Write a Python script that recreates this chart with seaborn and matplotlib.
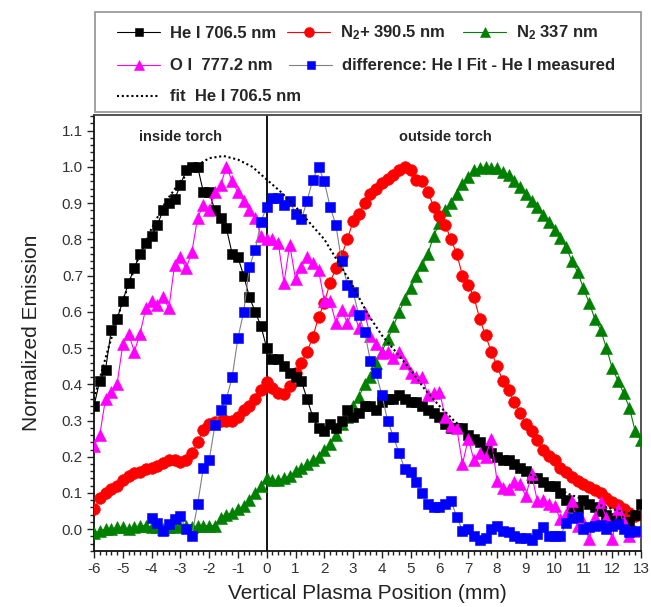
import matplotlib
matplotlib.use("Agg")
import matplotlib.pyplot as plt
import seaborn as sns
from matplotlib.patches import Rectangle
from matplotlib.ticker import MultipleLocator, FormatStrFormatter

# ---------------- data ----------------
POS = [-6.0, -5.8, -5.6, -5.4, -5.2, -5.0, -4.8, -4.6, -4.4, -4.2,
       -4.0, -3.8, -3.6, -3.4, -3.2, -3.0, -2.8, -2.6, -2.4, -2.2,
       -2.0, -1.8, -1.6, -1.4, -1.2, -1.0, -0.8, -0.6, -0.4, -0.2,
       0.0, 0.2, 0.4, 0.6, 0.8, 1.0, 1.2, 1.4, 1.6, 1.8,
       2.0, 2.2, 2.4, 2.6, 2.8, 3.0, 3.2, 3.4, 3.6, 3.8,
       4.0, 4.2, 4.4, 4.6, 4.8, 5.0, 5.2, 5.4, 5.6, 5.8,
       6.0, 6.2, 6.4, 6.6, 6.8, 7.0, 7.2, 7.4, 7.6, 7.8,
       8.0, 8.2, 8.4, 8.6, 8.8, 9.0, 9.2, 9.4, 9.6, 9.8,
       10.0, 10.2, 10.4, 10.6, 10.8, 11.0, 11.2, 11.4, 11.6, 11.8,
       12.0, 12.2, 12.4, 12.6, 12.8, 13.0]

he_i_706 = [0.34, 0.41, 0.44, 0.55, 0.58, 0.63, 0.68, 0.72, 0.76, 0.79,
            0.81, 0.84, 0.88, 0.90, 0.91, 0.95, 0.99, 1.00, 1.00, 0.93,
            0.93, 0.88, 0.86, 0.83, 0.76, 0.75, 0.70, 0.64, 0.60, 0.56,
            0.50, 0.47, 0.47, 0.45, 0.43, 0.42, 0.41, 0.36, 0.31, 0.28,
            0.27, 0.29, 0.28, 0.30, 0.33, 0.31, 0.32, 0.34, 0.34, 0.33,
            0.35, 0.36, 0.36, 0.37, 0.36, 0.35, 0.35, 0.34, 0.33, 0.32,
            0.31, 0.29, 0.28, 0.28, 0.28, 0.26, 0.25, 0.24, 0.22, 0.21,
            0.20, 0.19, 0.19, 0.18, 0.17, 0.16, 0.14, 0.14, 0.13, 0.12,
            0.12, 0.10, 0.08, 0.06, 0.06, 0.08, 0.07, 0.06, 0.05, 0.04,
            0.03, 0.03, 0.02, 0.02, 0.04, 0.07]

n2p_390 = [0.055, 0.085, 0.10, 0.11, 0.12, 0.135, 0.147, 0.155, 0.157, 0.165,
           0.17, 0.175, 0.182, 0.19, 0.19, 0.185, 0.19, 0.21, 0.24, 0.275,
           0.29, 0.295, 0.298, 0.298, 0.30, 0.31, 0.33, 0.34, 0.36, 0.385,
           0.405, 0.39, 0.375, 0.372, 0.395, 0.43, 0.46, 0.49, 0.53, 0.585,
           0.625, 0.68, 0.72, 0.755, 0.80, 0.85, 0.87, 0.90, 0.925, 0.94,
           0.955, 0.967, 0.977, 0.99, 1.0, 0.99, 0.965, 0.96, 0.93, 0.89,
           0.865, 0.84, 0.80, 0.76, 0.70, 0.675, 0.64, 0.58, 0.535, 0.49,
           0.45, 0.41, 0.385, 0.35, 0.322, 0.29, 0.27, 0.245, 0.22, 0.203,
           0.19, 0.17, 0.157, 0.145, 0.133, 0.124, 0.116, 0.108, 0.10, 0.085,
           0.075, 0.066, 0.055, 0.046, 0.037]

n2_337 = [-0.01, -0.005, 0.0, 0.0, 0.005, 0.005, 0.0, 0.005, 0.01, 0.01,
          0.005, 0.005, 0.0, 0.005, 0.005, 0.01, 0.01, 0.005, 0.01, 0.01,
          0.01, 0.01, 0.03, 0.04, 0.045, 0.055, 0.065, 0.08, 0.10, 0.12,
          0.14, 0.135, 0.135, 0.14, 0.148, 0.16, 0.168, 0.18, 0.19, 0.20,
          0.22, 0.235, 0.26, 0.29, 0.31, 0.34, 0.365, 0.40, 0.42, 0.46,
          0.49, 0.525, 0.56, 0.60, 0.634, 0.665, 0.70, 0.728, 0.76, 0.81,
          0.845, 0.88, 0.90, 0.925, 0.953, 0.973, 0.99, 0.996, 1.0, 0.998,
          0.996, 0.985, 0.977, 0.962, 0.945, 0.925, 0.905, 0.888, 0.868, 0.847,
          0.826, 0.805, 0.778, 0.74, 0.71, 0.665, 0.625, 0.58, 0.55, 0.50,
          0.445, 0.41, 0.375, 0.335, 0.27, 0.245]

o_i_777 = [0.23, 0.26, 0.36, 0.38, 0.40, 0.51, 0.54, 0.49, 0.54, 0.61,
           0.63, 0.62, 0.64, 0.61, 0.73, 0.75, 0.72, 0.765, 0.86, 0.895,
           0.88, 0.93, 0.95, 1.0, 0.96, 0.93, 0.905, 0.88, 0.86, 0.81,
           0.80, 0.80, 0.79, 0.68, 0.785, 0.69, 0.725, 0.75, 0.735, 0.716,
           0.63, 0.63, 0.57, 0.605, 0.57, 0.605, 0.555, 0.597, 0.533, 0.51,
           0.487, 0.49, 0.473, 0.49, 0.459, 0.43, 0.42, 0.42, 0.37, 0.376,
           0.38, 0.31, 0.285, 0.28, 0.18, 0.25, 0.19, 0.21, 0.20, 0.25,
           0.133, 0.115, 0.11, 0.129, 0.124, 0.092, 0.152, 0.078, 0.08, 0.069,
           0.064, 0.028, 0.041, 0.078, 0.01, 0.02, -0.028, 0.035, 0.074, 0.03,
           -0.028, 0.055, 0.02, -0.018, -0.005]

diff_fit_meas = [0.032, 0.018, -0.005, 0.014, 0.028, 0.037, 0.0, -0.018, 0.07, 0.17,
                 0.19, 0.287, 0.33, 0.36, 0.42, 0.528, 0.60, 0.725, 0.771, 0.849,
                 0.89, 0.913, 0.913, 0.895, 0.905, 0.87, 0.855, 0.905, 0.965, 1.0,
                 0.96, 0.89, 0.84, 0.74, 0.675, 0.655, 0.59, 0.545, 0.465, 0.43,
                 0.37, 0.30, 0.255, 0.21, 0.165, 0.157, 0.13, 0.10, 0.07, 0.06,
                 0.06, 0.07, 0.078, 0.035, -0.005, 0.0, -0.02, -0.03, -0.025, 0.0,
                 0.009, -0.005, -0.009, -0.02, -0.023, -0.025, -0.03, -0.014, 0.005, -0.02,
                 -0.02, -0.02, 0.018, 0.03, 0.035, 0.0, 0.005, 0.01, 0.012, 0.0,
                 0.008, 0.014, 0.0, -0.009, -0.005]
DIFF_START = 10  # difference series starts at POS[10] = -4.0 mm

fit_pos = [-6.0, -5.5, -5.0, -4.5, -4.0, -3.5, -3.0, -2.5, -2.0, -1.5,
           -1.0, -0.5, 0.0, 0.5, 1.0, 1.5, 2.0, 2.5, 3.0, 3.5,
           4.0, 4.5, 5.0, 5.5, 6.0, 6.5, 7.0, 7.5, 8.0, 8.5,
           9.0, 9.5, 10.0, 10.5, 11.0, 11.5, 12.0, 12.5, 13.0]
fit_he_i = [0.36, 0.50, 0.63, 0.74, 0.83, 0.905, 0.96, 1.0, 1.024, 1.03,
            1.02, 1.0, 0.965, 0.93, 0.89, 0.845, 0.80, 0.735, 0.67, 0.595,
            0.535, 0.488, 0.44, 0.385, 0.34, 0.30, 0.265, 0.232, 0.205, 0.18,
            0.158, 0.135, 0.115, 0.097, 0.082, 0.068, 0.056, 0.045, 0.036]

TORCH_EXIT = 0.0
LABELS = ["He I 706.5 nm", r"N$_2$+ 390.5 nm", r"N$_2$ 337 nm",
          "O I  777.2 nm", "difference: He I Fit - He I measured",
          "fit  He I 706.5 nm"]

# ---------------- style ----------------
sns.set_style("ticks")
plt.rcParams["font.family"] = ["Liberation Sans", "DejaVu Sans"]
plt.rcParams["axes.unicode_minus"] = False
plt.rcParams["mathtext.fontset"] = "custom"
plt.rcParams["mathtext.rm"] = "Liberation Sans:bold"
plt.rcParams["mathtext.bf"] = "Liberation Sans:bold"
plt.rcParams["mathtext.it"] = "Liberation Sans:bold"
plt.rcParams["mathtext.default"] = "rm"

fig = plt.figure(figsize=(6.51, 6.07), dpi=100)
fig.patch.set_facecolor("white")
ax = fig.add_axes([0.1444, 0.0923, 0.8402, 0.7182])


def draw(x, y, marker, mcolor, lcolor, ms, z):
    sns.lineplot(x=x, y=y, ax=ax, color=lcolor, linewidth=0.8,
                 marker=marker, markersize=ms, markerfacecolor=mcolor,
                 markeredgecolor=mcolor, markeredgewidth=0.4, zorder=z,
                 legend=False, errorbar=None)
    return ax.lines[-1]


h_n2 = draw(POS[:len(n2_337)], n2_337, "^", "#008000", "#008000", 8.8, 3)
h_n2p = draw(POS[:len(n2p_390)], n2p_390, "o", "#ff0000", "#ff0000", 8.4, 4)
h_he = draw(POS[:len(he_i_706)], he_i_706, "s", "#000000", "#000000", 6.8, 5)
h_oi = draw(POS[:len(o_i_777)], o_i_777, "^", "#ff00ff", "#ff00ff", 8.8, 6)
h_diff = draw(POS[DIFF_START:DIFF_START + len(diff_fit_meas)], diff_fit_meas,
              "s", "#0000ff", "#808080", 6.8, 7)
sns.lineplot(x=fit_pos, y=fit_he_i, ax=ax, color="black", linewidth=1.5,
             linestyle=(0, (1, 1.3)), zorder=8, legend=False, errorbar=None)
h_fit = ax.lines[-1]

ax.axvline(TORCH_EXIT, color="black", linewidth=1.3, zorder=2)

ax.text(-2.98, 1.083, "inside torch", ha="center", va="center",
        fontsize=10.5, fontweight="bold")
ax.text(6.19, 1.083, "outside torch", ha="center", va="center",
        fontsize=10.5, fontweight="bold")

ax.set_xlim(-6, 13)
ax.set_ylim(-0.06, 1.143)
ax.xaxis.set_major_locator(MultipleLocator(1))
ax.xaxis.set_minor_locator(MultipleLocator(0.2))
ax.yaxis.set_major_locator(MultipleLocator(0.1))
ax.yaxis.set_minor_locator(MultipleLocator(0.02))
ax.yaxis.set_major_formatter(FormatStrFormatter("%.1f"))
ax.tick_params(which="both", direction="out", top=False, right=False,
               width=1.0, color="#222222")
ax.tick_params(which="major", length=5, labelsize=11, pad=3,
               labelcolor="#333333")
ax.tick_params(which="minor", length=3)
for side in ["left", "bottom"]:
    ax.spines[side].set_linewidth(1.3)
    ax.spines[side].set_color("#111111")
for side in ["top", "right"]:
    ax.spines[side].set_linewidth(1.3)
    ax.spines[side].set_color("#444444")

ax.set_xlabel("Vertical Plasma Position (mm)", fontsize=15, labelpad=6,
              color="#222222")
ax.set_ylabel("Normalized Emission", fontsize=15, labelpad=15,
              color="#222222")

# ---------------- legend (outside, above axes) ----------------
fig.add_artist(Rectangle((0.1459, 0.8155), 0.8387, 0.1647,
                         transform=fig.transFigure, fill=False,
                         edgecolor="#9a9a9a", linewidth=1.3))

entries = [
    (h_he, LABELS[0], 117, 33),
    (h_n2p, LABELS[1], 287, 33),
    (h_n2, LABELS[2], 463, 33),
    (h_oi, LABELS[3], 117, 66),
    (h_diff, LABELS[4], 289, 66),
    (h_fit, LABELS[5], 117, 97),
]
W, H = 651.0, 607.0
for h, lab, px, py in entries:
    fig.legend(handles=[h], labels=[lab], loc="center left",
               bbox_to_anchor=(px / W, 1 - py / H), frameon=False,
               borderpad=0, borderaxespad=0, handlelength=2.6,
               handletextpad=0.6, markerscale=0.85,
               prop={"weight": "bold", "size": 12})

fig.savefig("out.png", dpi=100, facecolor="white")
